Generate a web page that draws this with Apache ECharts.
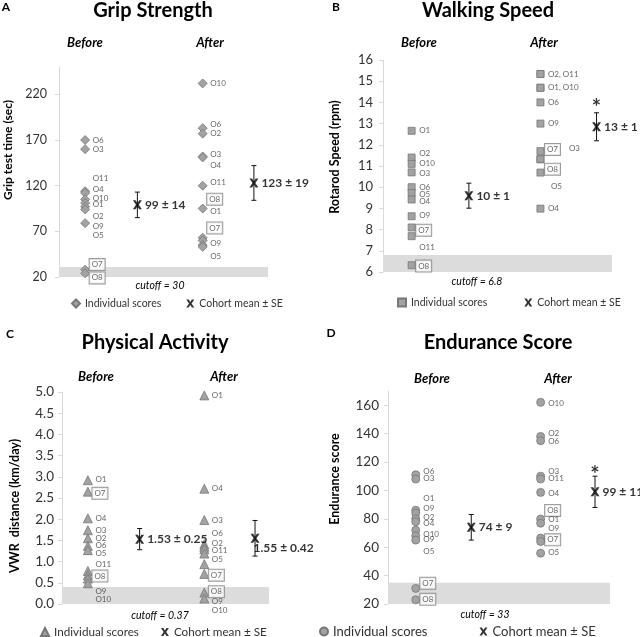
<!DOCTYPE html>
<html><head><meta charset="utf-8">
<script src="https://cdn.jsdelivr.net/npm/echarts@6/dist/echarts.min.js"></script>
<style>html,body{margin:0;padding:0;background:#fff}#c{width:640px;height:637px}</style>
</head><body><div id="c"></div><script>
// ================= DATA =================
const groupNames = ['Before', 'After'];
const legendTexts = ['Individual scores', 'Cohort mean ± SE'];

// A: Grip Strength (sec)
const gripBefore = [170, 160, 114, 112, 105, 101, 97, 94, 79, 28, 24];
const gripAfter  = [232, 183, 177, 152, 151, 120, 95, 63, 60, 55, 53];
const gripMean = [99, 123];
const gripSE   = [14, 19];
const gripMeanText = ['99 ± 14', '123 ± 19'];
const gripCutoff = 30;
const gripLabelsBefore = [['O6',170],['O3',160],['O11',128],['O4',116],['O10',106.6],['O1',99.7],['O2',86],['O9',75.6],['O5',65.4],['O7',33.6],['O8',19]];
const gripLabelsAfter  = [['O10',232],['O6',187],['O2',177],['O3',154.5],['O4',141.7],['O11',123.5],['O8',105.2],['O1',92],['O7',73.7],['O9',56.6],['O5',42.7]];

// B: Walking Speed (rpm)
const walkBefore = [12.66, 11.4, 11.1, 10.7, 10.0, 9.73, 9.42, 8.63, 8.1, 7.69, 6.32];
const walkAfter  = [15.34, 15.34, 14.69, 14.69, 14.0, 13.0, 11.7, 11.32, 11.32, 10.69, 8.99];
const walkMean = [9.6, 12.85];
const walkSE   = [0.59, 0.66];
const walkMeanText = ['10 ± 1', '13 ± 1'];
const walkCutoff = 6.8;
const walkSig = 14.05;
const walkLabelsBefore = [['O1',12.66],['O2',11.59],['O10',11.13],['O3',10.66],['O6',9.98],['O5',9.65],['O4',9.32],['O9',8.65],['O7',7.97],['O11',7.15],['O8',6.28]];
const walkLabelsAfter  = [['O2, O11',15.34],['O1, O10',14.69],['O6',14.0],['O9',13.0],['O7',11.78],['O3',11.83],['O8',10.85],['O5',10.06],['O4',9.0]];

// C: Physical Activity (km/day)
const actBefore = [2.92, 2.65, 2.02, 1.74, 1.55, 1.37, 1.27, 0.78, 0.68, 0.6, 0.49];
const actAfter  = [4.92, 2.72, 1.98, 1.41, 1.35, 1.29, 1.19, 0.94, 0.71, 0.27, 0.13];
const actMean = [1.53, 1.55];
const actSE   = [0.25, 0.42];
const actMeanText = ['1.53 ± 0.25', '1.55 ± 0.42'];
const actCutoff = 0.37;
const actLabelsBefore = [['O1',2.94],['O7',2.61],['O4',2.02],['O3',1.74],['O2',1.55],['O6',1.37],['O5',1.19],['O11',0.94],['O8',0.66],['O9',0.29],['O10',0.11]];
const actLabelsAfter  = [['O1',4.91],['O4',2.72],['O3',1.98],['O6',1.66],['O2',1.44],['O11',1.27],['O5',1.04],['O7',0.68],['O8',0.29],['O9',0.05],['O10',-0.14]];

// D: Endurance Score
const endBefore = [111, 108, 86, 84, 80, 78, 72, 68, 65, 31, 23];
const endAfter  = [162, 138, 135, 110, 108, 98.6, 79.8, 76.9, 66.4, 64, 55.8];
const endMean = [74, 99];
const endSE   = [9, 11];
const endMeanText = ['74 ± 9', '99 ± 11'];
const endCutoff = 33;
const endSig = 116;
const endLabelsBefore = [['O6',113.4],['O3',108.2],['O1',94.6],['O9',87.1],['O2',81.2],['O4',76.5],['O10',68.7],['O9',65.2],['O5',56.7],['O7',34.6],['O8',23.3]];
const endLabelsAfter  = [['O10',161.6],['O2',139.8],['O6',134.6],['O3',113.4],['O11',108.2],['O4',98.1],['O8',85.9],['O1',79.3],['O9',73.4],['O7',65.2],['O5',56.2]];

const boxedNames = ['O7', 'O8'];

// ================= LAYOUT / STYLE =================
const FONT = 'Lato';
const XPOS = { before: 0.5, meanBefore: 1.5, after: 2.75, meanAfter: 3.73 };
const X_PATH = 'path://M0,0L3,0L5,3.2L7,0L10,0L6.6,5L10,10L7,10L5,6.8L3,10L0,10L3.4,5Z';

const panels = [
  { letter:'A', title:'Grip Strength', axisTitle:'Grip test time (sec)', cutoffText:'cutoff = 30',
    before:gripBefore, after:gripAfter, mean:gripMean, se:gripSE, meanText:gripMeanText, bandTop:gripCutoff+1,
    lb:gripLabelsBefore, la:gripLabelsAfter, sig:null,
    grid:{left:59, top:67, width:209, height:210}, y:{min:20, max:250, interval:50, showMax:false, dec:0},
    tickFont:12.5, tickMargin:12, symbol:'diamond', symSize:9,
    letterPos:[6,7], titlePos:[153,11], headY:43, headX:[85,210], cutPos:[160,286], axisTitlePos:[8,150], axisTitleSize:12,
    legend:{left:71, top:298, size:10.5, gap:25}, meanOffset:[[0,0],[0,0]], nudge:{} },
  { letter:'B', title:'Walking Speed', axisTitle:'Rotarod Speed (rpm)', cutoffText:'cutoff = 6.8',
    before:walkBefore, after:walkAfter, mean:walkMean, se:walkSE, meanText:walkMeanText, bandTop:walkCutoff,
    lb:walkLabelsBefore, la:walkLabelsAfter, sig:walkSig,
    grid:{left:383, top:60, width:229, height:212}, y:{min:6, max:16, interval:1, showMax:true, dec:0},
    tickFont:13, tickMargin:10, symbol:'rect', symSize:7,
    letterPos:[336,7], titlePos:[488,11], headY:43, headX:[419,544], cutPos:[477,282], axisTitlePos:[335,157], axisTitleSize:12.5,
    legend:{left:397, top:297, size:10.5, gap:37}, meanOffset:[[0,0],[0,0]], nudge:{'O3':21, 'O5':3} },
  { letter:'C', title:'Physical Activity', axisTitle:'VWR  distance (km/day)', cutoffText:'cutoff = 0.37',
    before:actBefore, after:actAfter, mean:actMean, se:actSE, meanText:actMeanText, bandTop:0.4,
    lb:actLabelsBefore, la:actLabelsAfter, sig:null,
    grid:{left:62, top:392, width:207, height:212}, y:{min:0, max:5, interval:0.5, showMax:true, dec:1},
    tickFont:13.5, tickMargin:8, symbol:'triangle', symSize:9,
    letterPos:[10,334], titlePos:[155,343], headY:377, headX:[96,224], cutPos:[160,616], axisTitlePos:[15,506], axisTitleSize:12.5,
    legend:{left:40, top:626, size:11.7, gap:22}, meanOffset:[[0,0],[-9,10]], nudge:{} },
  { letter:'D', title:'Endurance Score', axisTitle:'Endurance score', cutoffText:'cutoff = 33',
    before:endBefore, after:endAfter, mean:endMean, se:endSE, meanText:endMeanText, bandTop:35,
    lb:endLabelsBefore, la:endLabelsAfter, sig:endSig,
    grid:{left:388, top:391, width:222, height:213}, y:{min:20, max:170, interval:20, showMax:false, dec:0},
    tickFont:13.5, tickMargin:9, symbol:'circle', symSize:8,
    letterPos:[331,333], titlePos:[498,343], headY:379, headX:[432,558], cutPos:[485,615], axisTitlePos:[335,479], axisTitleSize:12.5,
    legend:{left:319, top:625, size:13, gap:52}, meanOffset:[[0,0],[0,0]], nudge:{} }
];

const grids = [], xAxes = [], yAxes = [], series = [], legends = [], graphics = [];

function labelItem(x, name, y, nudge) {
  const boxed = boxedNames.indexOf(name) >= 0;
  const extra = nudge[name] || 0;
  return {
    value: [x, y],
    label: boxed ? {
      show: true, position: 'right', distance: 4 + extra, formatter: name,
      fontSize: 8, color: '#404040', fontFamily: FONT,
      borderColor: '#808080', borderWidth: 1, padding: [2, 2, 1, 2], backgroundColor: '#fff'
    } : {
      show: true, position: 'right', distance: 7 + extra, formatter: name,
      fontSize: 8, color: '#404040', fontFamily: FONT
    }
  };
}

panels.forEach((p, i) => {
  grids.push(Object.assign({ containLabel: false }, p.grid));
  xAxes.push({ gridIndex: i, type: 'value', min: 0, max: 4, show: false });
  yAxes.push({
    gridIndex: i, type: 'value', min: p.y.min, max: p.y.max, interval: p.y.interval,
    axisLine: { show: true, lineStyle: { color: '#d9d9d9', width: 1 } },
    axisTick: { show: true, length: 4, lineStyle: { color: '#d9d9d9' } },
    splitLine: { show: false },
    axisLabel: { fontSize: p.tickFont, color: '#333', fontFamily: FONT, margin: p.tickMargin,
      showMaxLabel: p.y.showMax, formatter: v => v.toFixed(p.y.dec) }
  });
  // cutoff band
  series.push({
    type: 'scatter', xAxisIndex: i, yAxisIndex: i, data: [[0, p.y.min]], symbolSize: 0, silent: true, z: 1,
    markArea: { silent: true, itemStyle: { color: '#dcdcdc' },
      data: [[{ xAxis: 0, yAxis: p.y.min }, { xAxis: 4, yAxis: p.bandTop }]] }
  });
  // individual scores
  const indData = p.before.map(v => [XPOS.before, v]).concat(p.after.map(v => [XPOS.after, v]));
  series.push({
    name: 'ind' + p.letter, type: 'scatter', xAxisIndex: i, yAxisIndex: i, data: indData, z: 3,
    symbol: p.symbol, symbolSize: p.symSize,
    itemStyle: { color: '#a2a2a2', borderColor: '#777', borderWidth: 0.8, opacity: 1 }
  });
  // labels
  const nudgeNone = {};
  const lblData = p.lb.map(d => labelItem(XPOS.before, d[0], d[1], nudgeNone))
    .concat(p.la.map(d => labelItem(XPOS.after, d[0], d[1], p.nudge)));
  series.push({
    type: 'scatter', xAxisIndex: i, yAxisIndex: i, data: lblData, z: 4, clip: false,
    symbolSize: 1, itemStyle: { color: 'transparent' }, silent: true
  });
  // error bars
  series.push({
    type: 'custom', xAxisIndex: i, yAxisIndex: i, z: 5, clip: false,
    data: [[XPOS.meanBefore, p.mean[0], p.se[0]], [XPOS.meanAfter, p.mean[1], p.se[1]]],
    encode: { x: 0, y: 1 },
    renderItem: (params, api) => {
      const x = api.value(0), m = api.value(1), s = api.value(2);
      const t = api.coord([x, m + s]), b = api.coord([x, m - s]);
      const w = 2.5, st = { stroke: '#111', lineWidth: 1 };
      return { type: 'group', children: [
        { type: 'line', shape: { x1: t[0], y1: t[1], x2: b[0], y2: b[1] }, style: st },
        { type: 'line', shape: { x1: t[0] - w, y1: t[1], x2: t[0] + w, y2: t[1] }, style: st },
        { type: 'line', shape: { x1: b[0] - w, y1: b[1], x2: b[0] + w, y2: b[1] }, style: st }
      ] };
    }
  });
  // cohort mean
  series.push({
    name: 'mean' + p.letter, type: 'scatter', xAxisIndex: i, yAxisIndex: i, z: 6, clip: false,
    symbol: X_PATH, symbolSize: 9, itemStyle: { color: '#000' },
    data: [0, 1].map(k => ({
      value: [k === 0 ? XPOS.meanBefore : XPOS.meanAfter, p.mean[k]],
      label: { show: true, position: 'right', distance: 3, offset: p.meanOffset[k], formatter: p.meanText[k],
        fontSize: 12, fontWeight: 'bold', color: '#000', fontFamily: FONT }
    }))
  });
  if (p.sig !== null) {
    series.push({
      type: 'scatter', xAxisIndex: i, yAxisIndex: i, z: 6, clip: false, silent: true,
      symbolSize: 1, itemStyle: { color: 'transparent' },
      data: [{ value: [XPOS.meanAfter, p.sig],
        label: { show: true, position: 'inside', formatter: '*', fontSize: 22, fontWeight: 'bold',
          color: '#000', fontFamily: FONT, offset: [0, 7] } }]
    });
  }
  legends.push({
    data: ['ind' + p.letter, 'mean' + p.letter], left: p.legend.left, top: p.legend.top, padding: 0,
    itemWidth: 8, itemHeight: 8, itemGap: p.legend.gap, selectedMode: false,
    formatter: n => n.indexOf('ind') === 0 ? legendTexts[0] : legendTexts[1],
    textStyle: { fontSize: p.legend.size, color: '#333', fontFamily: FONT }
  });
  // texts
  const t = (x, y, text, size, weight, style, extra) => Object.assign({
    type: 'text', x: x, y: y, silent: true,
    style: { text: text, fontSize: size, fontWeight: weight, fontStyle: style, fontFamily: FONT,
      fill: '#000', align: 'center', verticalAlign: 'middle' }
  }, extra || {});
  graphics.push(t(p.letterPos[0], p.letterPos[1], p.letter, 12, 'bold', 'normal'));
  graphics.push(t(p.titlePos[0], p.titlePos[1], p.title, 20, 'bold', 'normal'));
  graphics.push(t(p.headX[0], p.headY, groupNames[0], 13, 'bold', 'italic'));
  graphics.push(t(p.headX[1], p.headY, groupNames[1], 13, 'bold', 'italic'));
  graphics.push(t(p.cutPos[0], p.cutPos[1], p.cutoffText, 10.5, 'normal', 'italic'));
  graphics.push(t(p.axisTitlePos[0], p.axisTitlePos[1], p.axisTitle, p.axisTitleSize, 'bold', 'normal', { rotation: Math.PI / 2 }));
});

const chart = echarts.init(document.getElementById('c'), null, { renderer: 'canvas' });
chart.setOption({
  animation: false,
  backgroundColor: '#fff',
  textStyle: { fontFamily: FONT },
  grid: grids, xAxis: xAxes, yAxis: yAxes, series: series, legend: legends, graphic: graphics
});
</script></body></html>
